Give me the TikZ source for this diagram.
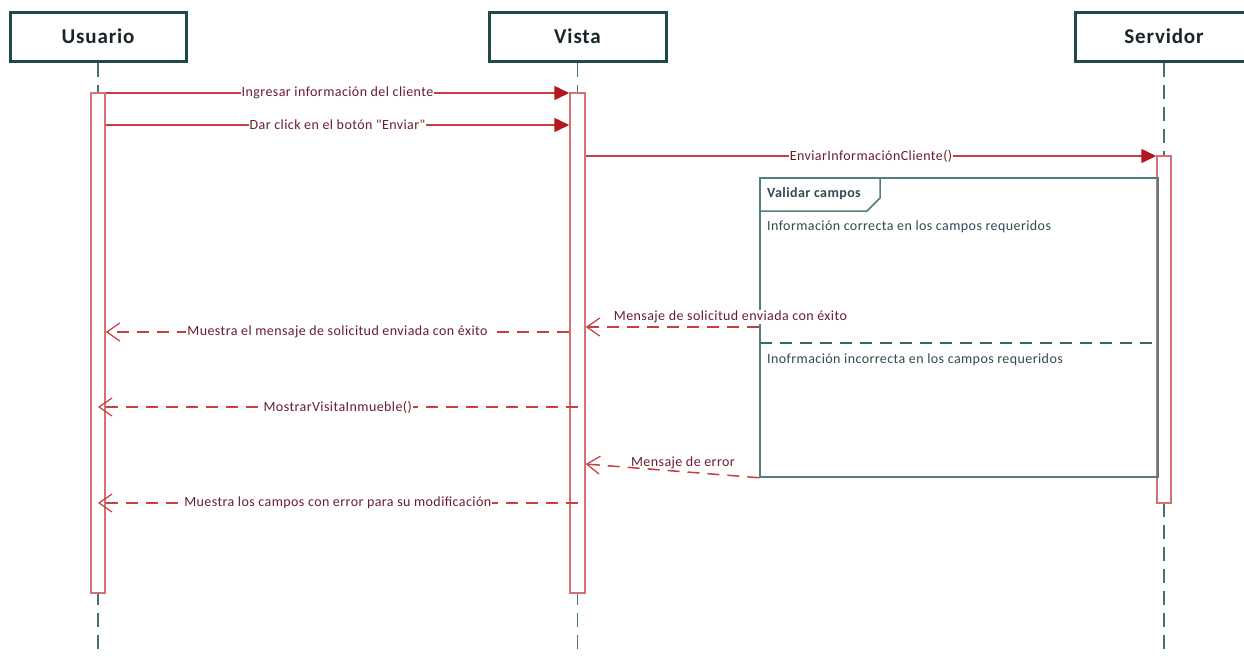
\documentclass[tikz,border=0pt]{standalone}
\usepackage{fontspec}
\setmainfont{Carlito}
\newfontfamily\msgfont[LetterSpace=3]{Carlito}
\newfontfamily\hdrfont[LetterSpace=4]{Carlito}
\usetikzlibrary{arrows.meta}

\definecolor{hdrline}{RGB}{32,74,74}
\definecolor{hdrtext}{RGB}{24,36,40}
\definecolor{lifecol}{RGB}{72,112,112}
\definecolor{barcol}{RGB}{214,112,114}
\definecolor{msgcol}{RGB}{200,62,64}
\definecolor{tipcol}{RGB}{180,24,30}
\definecolor{msgtext}{RGB}{105,30,45}
\definecolor{framecol}{RGB}{82,126,126}
\definecolor{frametext}{RGB}{48,74,80}
\definecolor{sepcol}{RGB}{52,108,96}

\tikzset{
  header/.style={draw=hdrline, line width=3pt, fill=white, minimum height=49pt,
    inner sep=0pt, text=hdrtext, font=\hdrfont\fontsize{21}{24}\selectfont\bfseries},
  lifeline/.style={draw=lifecol, line width=1.3pt, dash pattern=on 14pt off 8pt},
  actbar/.style={draw=barcol, line width=1.5pt, fill=white, inner sep=0pt},
  call/.style={draw=msgcol, line width=1.5pt,
    -{Triangle[length=15pt,width=14pt,color=tipcol]}},
  reply/.style={draw=msgcol, line width=1.5pt, dash pattern=on 12pt off 8pt,
    -{Straight Barb[length=13pt,width=18pt,line width=1.2pt]}},
  msglabel/.style={font=\msgfont\fontsize{14}{16}\selectfont, text=msgtext, fill=white, inner sep=1pt},
  fragbox/.style={draw=framecol, line width=1.5pt, inner sep=0pt},
  fragtext/.style={font=\msgfont\fontsize{14}{16}\selectfont, text=frametext, anchor=west, inner sep=0pt},
}

\begin{document}
\begin{tikzpicture}[x=1pt,y=-1pt]
  \useasboundingbox (0,0) rectangle (1244,656);
  \fill[white] (0,0) rectangle (1244,656);

  % participants
  \node[header, minimum width=176pt] (usuario)  at (98,36.5)    {Usuario};
  \node[header, minimum width=177pt] (vista)    at (577.5,36.5) {Vista};
  \node[header, minimum width=178pt] (servidor) at (1164,36.5)  {Servidor};

  % lifelines
  \coordinate (uend) at (98,656);
  \coordinate (vend) at (577.5,656);
  \coordinate (send) at (1164,656);
  \draw[lifeline] (usuario.south) -- (uend);
  \draw[lifeline] (vista.south) -- (vend);
  \draw[lifeline] (servidor.south) -- (send);

  % activation bars
  \node[actbar, minimum width=14pt, minimum height=500pt] (ubar) at (98,343) {};
  \node[actbar, minimum width=15pt, minimum height=500pt] (vbar) at (577.5,343) {};
  \node[actbar, minimum width=14pt, minimum height=347pt] (sbar) at (1164,329.5) {};

  % alternative fragment
  \node[fragbox, minimum width=398pt, minimum height=299pt] (alt) at (959,327.5) {};
  \coordinate (tabA) at (880,178);
  \coordinate (tabB) at (880,198);
  \coordinate (tabC) at (867,211);
  \coordinate (tabD) at (760,211);
  \draw[framecol, line width=1.5pt, line join=miter] (tabA) -- (tabB) -- (tabC) -- (tabD);
  \node[fragtext, font=\msgfont\fontsize{14}{16}\selectfont\bfseries] (altname) at (767,194) {Validar campos};
  \node[fragtext] (guard1) at (767,227) {Información correcta en los campos requeridos};
  \coordinate (sepL) at (760,343);
  \coordinate (sepR) at (1158,343);
  \draw[draw=sepcol, line width=1.5pt, dash pattern=on 12pt off 8pt] (sepL) -- (sepR);
  \node[fragtext] (guard2) at (767,360) {Inofrmación incorrecta en los campos requeridos};

  % messages
  \draw[call] (ubar.east |- 0,93) -- node[msglabel] {Ingresar información del cliente} (vbar.west |- 0,93);
  \draw[call] (ubar.east |- 0,125) -- node[msglabel] {Dar click en el botón \char34Enviar\char34} (vbar.west |- 0,125);
  \draw[call] (vbar.east |- 0,156) -- node[msglabel] {EnviarInformaciónCliente()} (sbar.west |- 0,156);

  \coordinate (okfrom) at (alt.west |- 0,327);
  \draw[reply] (okfrom) -- node[msglabel, pos=0.166, above=2pt] {Mensaje de solicitud enviada con éxito} (vbar.east |- 0,327);
  \draw[reply] (vbar.west |- 0,332) -- node[msglabel] {Muestra el mensaje de solicitud enviada con éxito} (ubar.east |- 0,332);
  \draw[reply] (vbar.center |- 0,407) -- node[msglabel] {MostrarVisitaInmueble()} (ubar.center |- 0,407);

  \coordinate (errfrom) at (alt.south west);
  \draw[reply] (errfrom) -- node[msglabel, pos=0.44, above=1pt, fill=none] {Mensaje de error} (vbar.east |- 0,464);
  \draw[reply] (vbar.center |- 0,503) -- node[msglabel] {Muestra los campos con error para su modificación} (ubar.center |- 0,503);
\end{tikzpicture}
\end{document}
